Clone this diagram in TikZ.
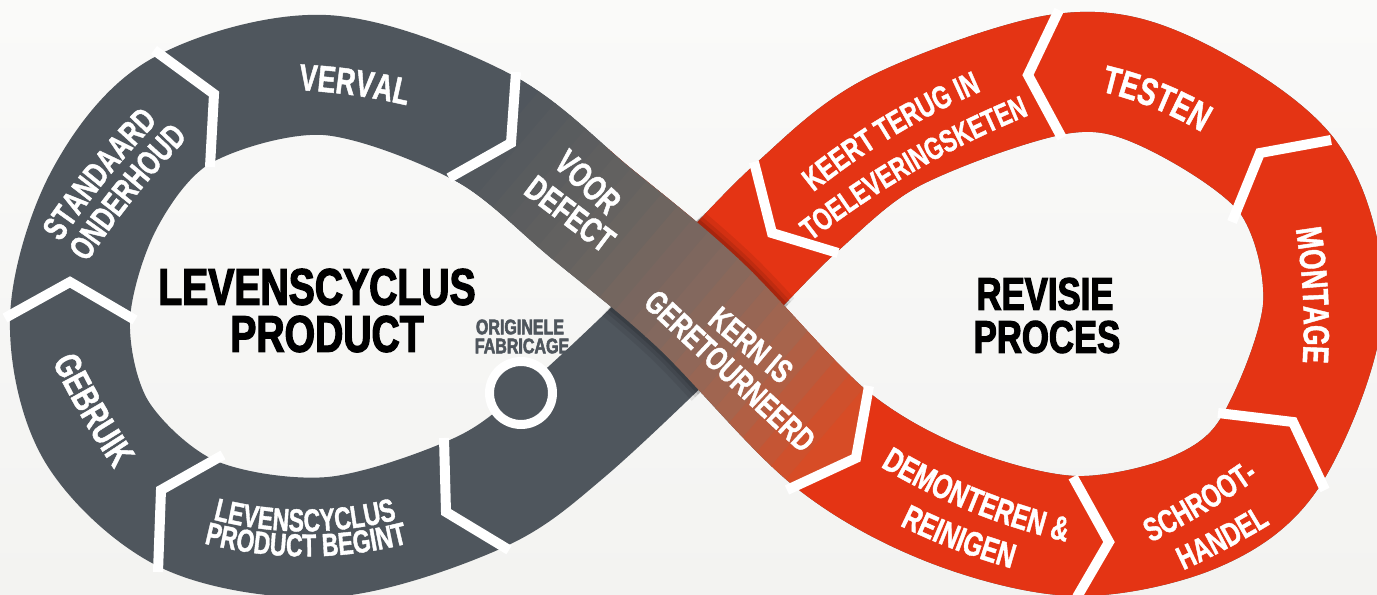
\documentclass[tikz,border=0pt]{standalone}
\usepackage{fontspec}
\usetikzlibrary{decorations.text}
\setmainfont{Liberation Sans}
\newfontfamily\lblfont[FakeStretch=0.72, FakeBold=1.2]{Liberation Sans Bold}
\newfontfamily\ttlfont[FakeStretch=0.76, FakeBold=2.5]{Liberation Sans Bold}
\definecolor{bandgray}{RGB}{79,86,93}
\definecolor{bandred}{RGB}{228,52,20}
\definecolor{bgtop}{RGB}{250,250,249}
\definecolor{bgbot}{RGB}{243,243,241}
% #1 x, #2 y (text centre), #3 rotation, #4 font size, #5 signed sagitta, #6 text
\newcommand\ArcLabel[6]{%
  \pgfmathsetmacro\arcH{0.631*#4}%
  \pgfmathsetmacro\arcE{\arcH-(#5)}%
  \pgfmathsetmacro\arcC{\arcH+(#5)/3}%
  \path[decorate, decoration={text along path, text align=center, text color=white,
      text={|\lblfont\fontsize{#4}{#4}\selectfont|#6}},
      shift={(#1,#2)}, rotate=#3]
      (-160,\arcE) .. controls (-53.3,\arcC) and (53.3,\arcC) .. (160,\arcE);%
}
\begin{document}
\begin{tikzpicture}[x=0.02cm,y=-0.02cm,
  band/.style={line width=2.4cm, line join=round},
  sepline/.style={draw=white, line width=0.2cm, line join=miter, line cap=butt},
  lab/.style={text=white, inner sep=0pt, font=\lblfont\fontsize{#1}{#1}\selectfont},
  ttl/.style={text=black, inner sep=0pt, font=\ttlfont\fontsize{#1}{#1}\selectfont},
  ]
\useasboundingbox (0,0) rectangle (1377,595);
\shade[top color=bgtop,bottom color=bgbot] (0,0) rectangle (1377,595);

\def\FigLoop{plot[smooth cycle, tension=0.55] coordinates {(700,305) (830,438) (947,505) (1075,536) (1195,512) (1271,451) (1323,307) (1288,177) (1165,91) (1060,74) (895,131) (796,208) (700,305) (565,432) (476,494) (330,537) (190,515) (97,432) (70,319) (104,200) (181,111) (325,75) (482,127) (592,214)}}
\def\FigOver{plot[smooth, tension=0.55] coordinates {(325,75) (482,127) (592,214) (700,305) (830,438) (947,505)}}

% gray loop everywhere
\draw[band, bandgray] \FigLoop;
% red part
\begin{scope}
  \clip (600,220) -- (620,-10) -- (1400,-10) -- (1400,610) -- (787,610) -- (787,488) -- (856,458) -- (869,386) -- (700,305) -- cycle;
  \draw[band, bandred] \FigLoop;
\end{scope}

% over band with shadow and gradient
\begin{scope}
  \clip (521,0) -- (511,143) -- (400,204) -- (400,620) -- (740,620) -- (740,511) -- (787,490) -- (856,458) -- (869,386) -- (880,330) -- (880,0) -- cycle;
  \begin{scope}
    \clip[shift={(700,305)}, rotate=45] (-110,-62) -- (110,-62) -- (110,62) -- (-110,62) -- cycle;
    \draw[line width=2.9cm, black, opacity=0.07] \FigOver;
    \draw[line width=2.7cm, black, opacity=0.09] \FigOver;
    \draw[line width=2.55cm, black, opacity=0.12] \FigOver;
  \end{scope}
  \foreach \i in {0,...,33} {
    \pgfmathsetmacro\sa{-80+20*\i}
    \pgfmathsetmacro\sb{\sa+21}
    \pgfmathsetmacro\tv{max(0,min(1,(\sa+10)/466))}
    \pgfmathtruncatemacro\cR{\tv<0.35 ? 79+25*\tv/0.35 : (\tv<0.6 ? 104+30*(\tv-0.35)/0.25 : (\tv<0.8 ? 134+35*(\tv-0.6)/0.2 : 169+47*(\tv-0.8)/0.2))}
    \pgfmathtruncatemacro\cG{\tv<0.35 ? 86+14*\tv/0.35 : (\tv<0.6 ? 100+5*(\tv-0.35)/0.25 : (\tv<0.8 ? 105-5*(\tv-0.6)/0.2 : 100-24*(\tv-0.8)/0.2))}
    \pgfmathtruncatemacro\cB{\tv<0.35 ? 93+4*\tv/0.35 : (\tv<0.6 ? 97-3*(\tv-0.35)/0.25 : (\tv<0.8 ? 94-18*(\tv-0.6)/0.2 : 76-38*(\tv-0.8)/0.2))}
    \definecolor{stripc}{RGB}{\cR,\cG,\cB}
    \begin{scope}
      \clip[shift={(482,127)}, rotate=-40.5] (\sa,-300) -- (\sb,-300) -- (\sb,300) -- (\sa,300) -- cycle;
      \draw[band, stripc] \FigOver;
    \end{scope}
  }
\end{scope}

% separators
\draw[sepline] (158,572) -- (161,490) -- (223,455);
\draw[sepline] (5,318) -- (70,282) -- (135,320);
\draw[sepline] (154,50) -- (214,94) -- (210,167);
\draw[sepline] (516,72) -- (511,143) -- (449,178);
\draw[sepline] (869,386) -- (856,458) -- (787,490);
\draw[sepline] (1073,477) -- (1109,542) -- (1077,597);
\draw[sepline] (1218,413) -- (1293,422) -- (1325,490);
\draw[sepline] (1232,222) -- (1260,153) -- (1331,140);
\draw[sepline] (1059,10) -- (1028,75) -- (1062,138);
\draw[sepline] (754,162) -- (772,233) -- (838,253);
\draw[sepline] (444,438) -- (446,512) -- (509,550);

% original manufacturing circle
\node[circle, draw=white, line width=0.18cm, fill=bandgray, minimum size=1.26cm, inner sep=0pt] (orig) at (521,393) {};

% titles
\node[ttl=29.3] (lc1) at (317,287) {LEVENSCYCLUS};
\node[ttl=29.3] (lc2) at (327,334) {PRODUCT};
\node[ttl=26] (rp1) at (1045,294) {REVISIE};
\node[ttl=26] (rp2) at (1047,337) {PROCES};
\node[ttl=12, text=bandgray] (of1) at (520,327) {ORIGINELE};
\node[ttl=12, text=bandgray] (of2) at (522,346) {FABRICAGE};

% straight band labels on the crossing band
\node[lab=20, rotate=-43] (voor) at (588,182) {VOOR};
\node[lab=20, rotate=-37] (defect) at (570,214) {DEFECT};
\node[lab=18.9, rotate=-40] (kern1) at (751,345) {KERN IS};
\node[lab=18.9, rotate=-43] (kern2) at (730,371) {GERETOURNEERD};

% curved band labels
\ArcLabel{355}{82}{-8}{21.3}{-21}{VERVAL}
\ArcLabel{97}{172}{51}{19.4}{-15}{STANDAARD}
\ArcLabel{125}{190}{51}{19.4}{-15}{ONDERHOUD}
\ArcLabel{93}{410}{-60}{21.3}{15}{GEBRUIK}
\ArcLabel{305}{520}{0}{18.1}{36}{LEVENSCYCLUS}
\ArcLabel{306}{545}{0}{18.1}{32}{PRODUCT BEGINT}
\ArcLabel{888}{126}{31}{18.4}{-18}{KEERT TERUG IN}
\ArcLabel{910}{161}{30}{17.8}{-14}{TOELEVERINGSKETEN}
\ArcLabel{1158}{95}{-22}{22}{-37}{TESTEN}
\ArcLabel{1316}{295}{-87}{20.8}{-21}{MONTAGE}
\ArcLabel{1200}{502}{31}{18.7}{15}{SCHROOT-}
\ArcLabel{1222}{538}{28}{18.7}{15}{HANDEL}
\ArcLabel{975}{500}{-22}{19.6}{20}{DEMONTEREN {\&}}
\ArcLabel{959}{538}{-21}{19.6}{20}{REINIGEN}
\end{tikzpicture}
\end{document}
